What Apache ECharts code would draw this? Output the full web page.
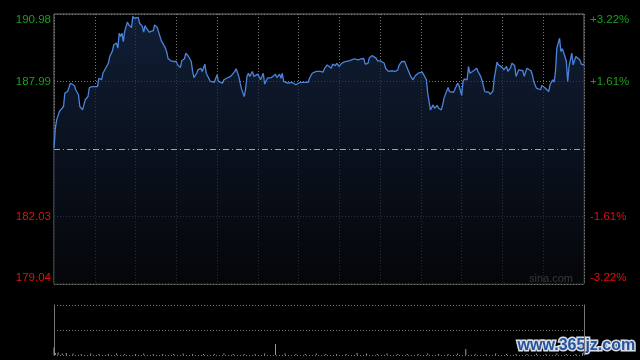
<!DOCTYPE html>
<html>
<head>
<meta charset="utf-8">
<script src="https://cdn.jsdelivr.net/npm/echarts@6/dist/echarts.min.js"></script>
<style>
  html, body { margin: 0; padding: 0; background: #000; }
  #chart { width: 640px; height: 360px; }
</style>
</head>
<body>
<div id="chart"></div>
<script>
// minutes after the open (0 = 09:30, 390 = 16:00)
const minutes = [0,1,2,4,5,7,8,10,11,12,13,15,16,17,18,19,21,22,23,25,26,28,30,31,32,33,35,36,37,38,40,41,43,44,46,47,48,49,50,51,52,54,55,57,58,59,60,62,63,65,66,67,68,70,71,73,74,76,77,79,80,82,83,84,86,88,90,91,93,94,96,97,
  99,101,102,103,105,106,108,109,111,112,113,115,116,118,119,120,121,122,124,125,127,128,130,131,133,134,136,137,138,140,141,142,143,144,145,146,147,148,150,151,152,153,154,155,157,158,160,161,163,164,166,167,168,169,170,172,173,175,176,178,179,181,182,184,185,187,188,190,191,193,194,196,
  197,198,199,201,202,204,205,207,208,210,211,213,215,217,219,221,222,224,226,228,229,231,232,234,235,237,238,240,241,243,244,246,247,249,250,251,253,254,256,258,259,261,262,264,265,266,268,269,271,272,274,275,276,277,279,280,282,283,285,286,287,289,290,291,292,294,
  295,297,298,300,301,302,304,305,306,308,309,311,312,314,315,317,318,320,321,323,324,326,327,328,330,331,333,334,336,337,339,340,342,343,345,346,348,349,351,352,353,355,356,358,359,361,362,364,365,367,368,369,370,372,373,374,376,377,378,379,381,382,384,385,387,388,390];
const prices = [185.05,185.93,186.31,186.67,186.71,186.89,187.48,187.55,187.73,187.92,188.00,187.82,187.63,187.67,187.41,186.89,186.74,186.81,187.19,187.33,187.73,187.77,187.77,187.82,187.77,188.14,188.07,188.36,188.29,188.58,188.80,189.10,189.35,189.62,189.69,189.47,190.13,189.99,190.13,189.76,190.21,190.62,190.50,190.38,190.88,190.79,190.72,190.83,190.57,190.43,190.18,190.47,190.35,190.18,190.21,190.24,190.50,190.38,190.18,189.79,189.69,189.47,189.29,189.00,188.91,188.88,188.88,188.73,188.61,188.91,189.00,189.25,
  189.10,188.88,188.44,188.17,188.36,188.51,188.58,188.44,188.76,188.36,188.29,188.00,188.03,187.96,188.03,188.29,188.00,188.07,187.92,188.07,188.14,188.07,188.22,188.29,188.44,188.56,188.22,187.92,187.67,187.33,187.67,188.22,188.36,188.22,188.29,188.44,188.22,188.22,188.32,188.36,188.07,188.07,188.36,187.88,188.14,188.22,188.17,188.22,188.32,188.17,188.32,188.14,188.36,188.00,188.00,187.92,188.00,187.96,187.92,187.85,187.82,187.96,187.92,187.96,187.92,187.96,188.14,188.36,188.32,188.44,188.51,188.44,
  188.51,188.41,188.56,188.73,188.80,188.58,188.76,188.70,188.80,188.66,188.76,188.85,188.88,188.91,188.95,189.00,189.06,188.95,189.00,189.00,188.76,188.80,189.03,189.14,189.06,189.03,188.91,188.91,188.85,188.80,188.58,188.44,188.51,188.47,188.51,188.44,188.51,188.73,188.88,188.88,188.73,188.44,188.29,188.07,188.00,188.26,188.36,188.32,188.41,188.36,188.07,187.48,187.11,186.74,186.96,186.81,186.93,186.81,186.74,186.96,187.26,187.58,187.73,187.55,187.63,187.52,
  187.55,187.92,187.82,187.38,188.00,188.11,188.07,188.66,188.36,188.44,188.51,188.58,188.44,188.22,188.03,187.55,187.58,187.52,187.43,187.58,188.14,188.85,188.73,188.70,188.61,188.51,188.66,188.44,188.61,188.80,188.70,188.22,188.51,188.56,188.47,188.22,188.58,188.56,188.47,188.29,188.00,187.70,187.67,187.63,187.82,187.73,187.77,187.55,187.85,188.07,187.96,188.44,189.47,189.91,189.32,189.44,189.10,188.88,188.00,188.66,189.25,188.73,189.10,189.06,188.95,188.76,188.73];

const volMinutes = [0,1,3,6,9,14,20,27,33,40,46,52,60,66,73,80,88,95,102,110,118,125,132,140,148,155,163,170,178,185,193,200,208,215,223,230,238,245,253,260,268,275,283,290,297,303,310,318,325,333,340,348,355,362,370,377,384,389];
const volValues = [15,4,5,3,4,3,2,3,2,2,3,2,2,3,2,2,2,3,2,2,2,3,2,2,2,3,22,3,2,2,3,2,2,2,4,3,2,3,2,2,2,3,2,2,3,12,2,2,3,2,2,2,3,2,3,2,2,4];

const prevClose = 185.01;
const priceMin = 179.04;
const priceMax = 190.98;
const priceTicks = ['179.04', '182.03', '', '187.99', '190.98'];
const pctTicks = ['-3.22%', '-1.61%', '', '+1.61%', '+3.22%'];

const step = (priceMax - priceMin) / 4;
const tickIndex = v => Math.round((v - priceMin) / step);
const labelStyle = i => (i >= 3 ? (i === 4 ? 'gTop' : 'g') : (i === 0 ? 'rBot' : 'r'));

const labelRich = {
  g: { color: '#18a018', fontSize: 11.5 },
  gTop: { color: '#18a018', fontSize: 11.5, padding: [12, 0, 0, 0] },
  r: { color: '#e01010', fontSize: 11.5 },
  rBot: { color: '#e01010', fontSize: 11.5, padding: [0, 0, 12, 0] }
};

const gridDot = { color: '#777', width: 1, type: [1, 2] };

const chart = echarts.init(document.getElementById('chart'));

chart.setOption({
  backgroundColor: '#000',
  animation: false,
  textStyle: { fontFamily: 'Liberation Sans, Arial, sans-serif' },
  grid: [
    { left: 54, top: 14, width: 530, height: 270, show: true, borderColor: '#777', borderWidth: 1 },
    { left: 54, top: 305, width: 530, height: 50 }
  ],
  xAxis: [
    {
      gridIndex: 0, type: 'value', min: 0, max: 390, interval: 30,
      axisLine: { show: false }, axisTick: { show: false }, axisLabel: { show: false },
      splitLine: { show: true, lineStyle: gridDot }
    },
    {
      gridIndex: 1, type: 'value', min: 0, max: 390, interval: 30,
      axisLine: { show: false }, axisTick: { show: false }, axisLabel: { show: false },
      splitLine: { show: false }
    }
  ],
  yAxis: [
    {
      gridIndex: 0, type: 'value', min: priceMin, max: priceMax, interval: step, position: 'left',
      axisLine: { show: false }, axisTick: { show: false },
      axisLabel: {
        margin: 3,
        formatter: v => {
          const i = tickIndex(v);
          return priceTicks[i] ? '{' + labelStyle(i) + '|' + priceTicks[i] + '}' : '';
        },
        rich: labelRich
      },
      splitLine: { show: true, lineStyle: { color: ['#777', '#777', 'rgba(0,0,0,0)', '#777', '#777'], width: 1, type: [1, 2] } }
    },
    {
      gridIndex: 0, type: 'value', min: priceMin, max: priceMax, interval: step, position: 'right',
      axisLine: { show: false }, axisTick: { show: false },
      axisLabel: {
        margin: 6,
        formatter: v => {
          const i = tickIndex(v);
          return pctTicks[i] ? '{' + labelStyle(i) + '|' + pctTicks[i] + '}' : '';
        },
        rich: labelRich
      },
      splitLine: { show: false }
    },
    {
      gridIndex: 1, type: 'value', min: 0, max: 100, interval: 50, position: 'left',
      axisLine: { show: true, lineStyle: { color: '#777' } }, axisTick: { show: false }, axisLabel: { show: false },
      splitLine: { show: true, lineStyle: gridDot }
    },
    {
      gridIndex: 1, type: 'value', min: 0, max: 100, interval: 50, position: 'right',
      axisLine: { show: true, lineStyle: { color: '#777' } }, axisTick: { show: false }, axisLabel: { show: false },
      splitLine: { show: false }
    }
  ],
  series: [
    {
      type: 'line',
      xAxisIndex: 0,
      yAxisIndex: 0,
      data: minutes.map((m, i) => [m, prices[i]]),
      showSymbol: false,
      lineStyle: { color: '#4a84dc', width: 1.3 },
      areaStyle: {
        origin: 'start',
        color: new echarts.graphic.LinearGradient(0, 0, 0, 1, [
          { offset: 0, color: '#172a4b' },
          { offset: 1, color: '#06080c' }
        ])
      },
      markLine: {
        silent: true,
        symbol: 'none',
        label: { show: false },
        lineStyle: { color: '#9aa3ad', width: 1, type: [6, 3, 1, 3] },
        data: [{ yAxis: prevClose }]
      }
    },
    {
      type: 'bar',
      xAxisIndex: 1,
      yAxisIndex: 2,
      barWidth: 1,
      data: volMinutes.map((m, i) => [m, volValues[i]]),
      itemStyle: { color: '#999' }
    }
  ],
  graphic: [
    {
      type: 'text', right: 67, top: 273,
      style: { text: 'sina.com', fill: '#a0a0a0', font: '11px Liberation Sans, Arial, sans-serif' }
    },
    {
      type: 'text', left: 516, top: 336,
      style: {
        text: 'www.365jz.com', fill: '#24549e', stroke: '#d8dde6', lineWidth: 3,
        font: 'bold 16px Liberation Sans, Arial, sans-serif'
      }
    }
  ]
});
</script>
</body>
</html>
